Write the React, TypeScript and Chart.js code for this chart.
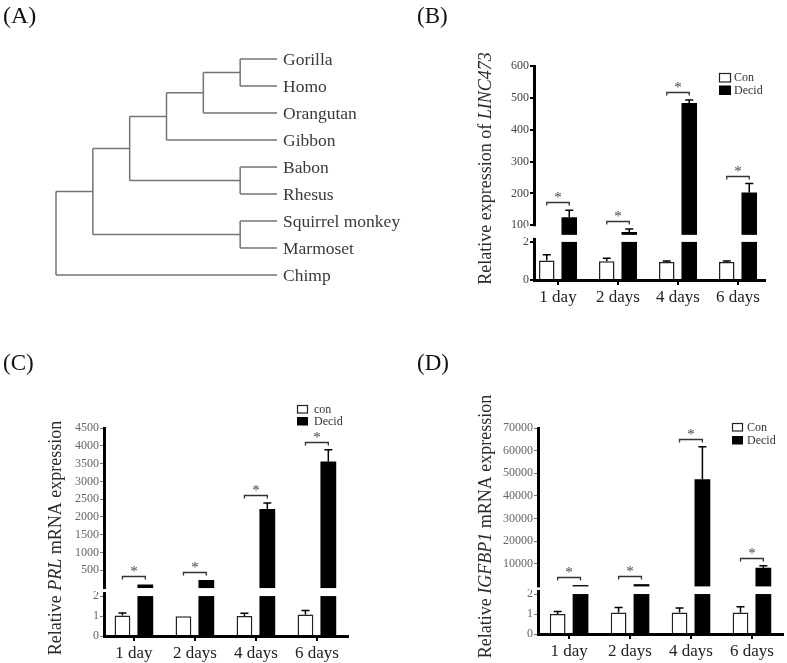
import React, { useEffect, useRef } from "react";
import { Chart, registerables } from "chart.js";

Chart.register(...registerables);

const SERIF = "'Liberation Serif', 'Times New Roman', Times, serif";
Chart.defaults.font.family = SERIF;

// ---------------- Panel A : tree ----------------
const speciesLeaves = ["Gorilla", "Homo", "Orangutan", "Gibbon", "Babon", "Rhesus", "Squirrel monkey", "Marmoset", "Chimp"];
const cladeNames = ["GH", "GHO", "GHOG", "BR", "OW", "SM", "PR", "ROOT"];
const cladeChildren = [
  ["Gorilla", "Homo"],
  ["GH", "Orangutan"],
  ["GHO", "Gibbon"],
  ["Babon", "Rhesus"],
  ["GHOG", "BR"],
  ["Squirrel monkey", "Marmoset"],
  ["OW", "SM"],
  ["PR", "Chimp"],
];
const cladeDepth = [5, 4, 3, 5, 2, 5, 1, 0];
const leafDepth = 6;

// ---------------- shared ----------------
const dayLabels = ["1 day", "2 days", "4 days", "6 days"];

// ---------------- Panel B : LINC473 ----------------
const bCon = [1.02, 0.98, 0.95, 0.95];
const bConErr = [0.3, 0.16, 0.05, 0.05];
const bDecid = [125, 79, 484, 203];
const bDecidErr = [22, 9, 9, 28];
const bSig = ["*", "*", "*", "*"];
const bLowerTicks = [0, 2];
const bUpperTicks = [100, 200, 300, 400, 500, 600];
const bLegend = ["Con", "Decid"];

// ---------------- Panel C : PRL ----------------
const cCon = [1.03, 0.99, 1.0, 1.08];
const cConErr = [0.12, 0, 0.14, 0.2];
const cDecid = [100, 230, 2222, 3555];
const cDecidErr = [0, 0, 167, 334];
const cSig = ["*", "*", "*", "*"];
const cLowerTicks = [0, 1, 2];
const cUpperTicks = [500, 1000, 1500, 2000, 2500, 3000, 3500, 4000, 4500];
const cLegend = ["con", "Decid"];

// ---------------- Panel D : IGFBP1 ----------------
const dCon = [1.0, 1.08, 1.07, 1.07];
const dConErr = [0.13, 0.25, 0.23, 0.29];
const dDecid = [600, 1000, 47350, 8240];
const dDecidErr = [0, 0, 14400, 900];
const dSig = ["*", "*", "*", "*"];
const dLowerTicks = [0, 1, 2];
const dUpperTicks = [10000, 20000, 30000, 40000, 50000, 60000, 70000];
const dLegend = ["Con", "Decid"];

function buildTree(canvas: HTMLCanvasElement) {
  const W = canvas.width;
  const H = canvas.height;
  const posX: Record<string, number> = {};
  const posY: Record<string, number> = {};
  speciesLeaves.forEach((n, i) => {
    posX[n] = leafDepth;
    posY[n] = i;
  });
  cladeNames.forEach((n, k) => {
    const kids = cladeChildren[k];
    posX[n] = cladeDepth[k];
    posY[n] = (posY[kids[0]] + posY[kids[1]]) / 2;
  });
  const segs: any[] = [];
  cladeNames.forEach((n, k) => {
    const [a, b] = cladeChildren[k];
    const d = cladeDepth[k];
    segs.push([{ x: d, y: posY[a] }, { x: d, y: posY[b] }]);
    segs.push([{ x: d, y: posY[a] }, { x: posX[a], y: posY[a] }]);
    segs.push([{ x: d, y: posY[b] }, { x: posX[b], y: posY[b] }]);
  });
  const labelPlugin = {
    id: "leafLabels",
    afterDatasetsDraw(chart: any) {
      const ctx = chart.ctx;
      const xs = chart.scales.x;
      const ys = chart.scales.y;
      ctx.save();
      ctx.fillStyle = "#3a3a3a";
      ctx.font = `17.5px ${SERIF}`;
      ctx.textAlign = "left";
      ctx.textBaseline = "middle";
      speciesLeaves.forEach((n, i) => {
        ctx.fillText(n, xs.getPixelForValue(leafDepth) + 6, ys.getPixelForValue(i) + 1);
      });
      ctx.fillStyle = "#111";
      ctx.font = `24px ${SERIF}`;
      ctx.textBaseline = "alphabetic";
      ctx.fillText("(A)", 3, 23);
      ctx.restore();
    },
  };
  return new Chart(canvas, {
    type: "scatter",
    data: {
      datasets: segs.map((s) => ({
        data: s,
        showLine: true,
        borderColor: "#747474",
        borderWidth: 1.5,
        pointRadius: 0,
        clip: false,
        tension: 0,
      })),
    },
    options: {
      responsive: false,
      animation: false,
      devicePixelRatio: 1,
      events: [],
      layout: { padding: { left: 56, right: W - 277, top: 59, bottom: H - 275 } },
      plugins: { legend: { display: false }, tooltip: { enabled: false } },
      scales: {
        x: { type: "linear", min: 0, max: leafDepth, display: false },
        y: { type: "linear", min: 0, max: speciesLeaves.length - 1, reverse: true, display: false },
      },
    },
    plugins: [labelPlugin],
  } as any);
}

function buildBar(canvas: HTMLCanvasElement, s: any) {
  const W = canvas.width;
  const H = canvas.height;
  const upperBase = s.lowerFrac + s.gapFrac;
  const upperSpan = 1 - upperBase;
  const tf = (v: number) =>
    v <= s.lowerMax
      ? (v / s.lowerMax) * s.lowerFrac
      : upperBase + ((v - s.upperMin) / (s.upperMax - s.upperMin)) * upperSpan;
  const tickVals = [...s.lowerTicks, ...s.upperTicks];

  const decor = {
    id: "decor",
    afterDatasetsDraw(chart: any) {
      const ctx = chart.ctx;
      const ys = chart.scales.y;
      const ca = chart.chartArea;
      ctx.save();
      // break gap
      ctx.fillStyle = "#fff";
      const gTop = ys.getPixelForValue(upperBase);
      const gBot = ys.getPixelForValue(s.lowerFrac);
      ctx.fillRect(ca.left + 2, gTop, ca.right - ca.left, gBot - gTop);
      const aTopVal = s.axisUpperStart > s.upperMin ? tf(s.axisUpperStart) : upperBase;
      const aTop = ys.getPixelForValue(aTopVal) + 1;
      const aBot = gBot - 4;
      ctx.fillRect(ca.left - 8, aTop, 11, aBot - aTop);
      // error bars
      const vals = [s.con, s.decid];
      const errs = [s.conErr, s.decidErr];
      ctx.strokeStyle = "#000";
      ctx.lineWidth = 1.5;
      for (let d = 0; d < 2; d++) {
        const meta = chart.getDatasetMeta(d);
        for (let i = 0; i < vals[d].length; i++) {
          if (!errs[d][i]) continue;
          const x = meta.data[i].x;
          const y0 = ys.getPixelForValue(tf(vals[d][i]));
          const y1 = ys.getPixelForValue(tf(vals[d][i] + errs[d][i]));
          ctx.beginPath();
          ctx.moveTo(x, y0);
          ctx.lineTo(x, y1);
          ctx.moveTo(x - 4, y1);
          ctx.lineTo(x + 4, y1);
          ctx.stroke();
        }
      }
      // significance brackets
      const m0 = chart.getDatasetMeta(0);
      const m1 = chart.getDatasetMeta(1);
      ctx.strokeStyle = "#333";
      ctx.lineWidth = 1.3;
      ctx.fillStyle = "#444";
      ctx.font = `15px ${SERIF}`;
      ctx.textAlign = "center";
      ctx.textBaseline = "alphabetic";
      for (let i = 0; i < s.sig.length; i++) {
        if (!s.sig[i]) continue;
        const x0 = m0.data[i].x;
        const x1 = m1.data[i].x;
        const top = Math.min(
          ys.getPixelForValue(tf(s.con[i] + s.conErr[i])),
          ys.getPixelForValue(tf(s.decid[i] + s.decidErr[i]))
        );
        const by = Math.round(top - 8) + 0.5;
        ctx.beginPath();
        ctx.moveTo(x0, by + 3);
        ctx.lineTo(x0, by);
        ctx.lineTo(x1, by);
        ctx.lineTo(x1, by + 3);
        ctx.stroke();
        ctx.fillText(s.sig[i], (x0 + x1) / 2, by - 1);
      }
      ctx.restore();
    },
    afterDraw(chart: any) {
      const ctx = chart.ctx;
      ctx.save();
      // legend
      const L = s.legend;
      ctx.font = `12px ${SERIF}`;
      ctx.textAlign = "left";
      ctx.textBaseline = "middle";
      s.legendNames.forEach((name: string, k: number) => {
        const by = L.y + k * L.step;
        if (k === 0) {
          ctx.fillStyle = "#fff";
          ctx.fillRect(L.x, by, L.boxW, L.boxH);
          ctx.strokeStyle = "#222";
          ctx.lineWidth = 1.2;
          ctx.strokeRect(L.x + 0.5, by + 0.5, L.boxW - 1, L.boxH - 1);
        } else {
          ctx.fillStyle = "#000";
          ctx.fillRect(L.x, by, L.boxW, L.boxH);
        }
        ctx.fillStyle = "#333";
        ctx.fillText(name, L.textX, by + L.boxH / 2 + 0.5);
      });
      // y title with italic gene name
      const T = s.title;
      const parts = T.parts as [string, boolean][];
      const fontOf = (it: boolean) => `${it ? "italic " : ""}18px ${SERIF}`;
      let total = 0;
      const widths = parts.map(([t, it]) => {
        ctx.font = fontOf(it);
        const w = ctx.measureText(t).width;
        total += w;
        return w;
      });
      ctx.translate(T.x, T.y);
      ctx.rotate(-Math.PI / 2);
      ctx.fillStyle = "#2a2a2a";
      ctx.textAlign = "left";
      ctx.textBaseline = "alphabetic";
      let cx = -total / 2;
      parts.forEach(([t, it], k) => {
        ctx.font = fontOf(it);
        ctx.fillText(t, cx, 0);
        cx += widths[k];
      });
      ctx.setTransform(1, 0, 0, 1, 0, 0);
      // panel label
      ctx.fillStyle = "#111";
      ctx.font = `23px ${SERIF}`;
      ctx.fillText(s.panelLabel.text, s.panelLabel.x, s.panelLabel.y);
      ctx.restore();
    },
  };

  const barCommon = { categoryPercentage: 0.75, barPercentage: 0.69 };
  return new Chart(canvas, {
    type: "bar",
    data: {
      datasets: [
        {
          label: s.legendNames[0],
          data: s.con.map((v: number, i: number) => ({ x: i, y: tf(v) })),
          backgroundColor: "#fff",
          borderColor: "#222",
          borderWidth: 1.5,
          ...barCommon,
        },
        {
          label: s.legendNames[1],
          data: s.decid.map((v: number, i: number) => ({ x: i, y: tf(v) })),
          backgroundColor: "#000",
          borderColor: "#000",
          borderWidth: 0,
          ...barCommon,
        },
      ],
    },
    options: {
      responsive: false,
      animation: false,
      devicePixelRatio: 1,
      events: [],
      layout: { padding: { left: 0, top: s.area.top, right: W - s.area.right, bottom: 0 } },
      plugins: { legend: { display: false }, tooltip: { enabled: false }, title: { display: false } },
      scales: {
        x: {
          type: "linear",
          offset: false,
          min: s.xMin,
          max: s.xMax,
          afterFit: (sc: any) => {
            sc.height = H - s.area.bottom;
          },
          afterBuildTicks: (sc: any) => {
            sc.ticks = dayLabels.map((_, i) => ({ value: i }));
          },
          ticks: {
            autoSkip: false,
            maxRotation: 0,
            padding: 2,
            color: "#222",
            font: { size: 17, family: SERIF },
            callback: (_v: any, i: number) => dayLabels[i],
          },
          grid: { offset: false, drawOnChartArea: false, color: "#000", lineWidth: 2, tickLength: 5, z: 1 },
          border: { display: true, color: "#000", width: 3, z: 1 },
        },
        y: {
          type: "linear",
          min: 0,
          max: 1,
          afterFit: (sc: any) => {
            sc.width = s.area.left;
          },
          afterBuildTicks: (sc: any) => {
            sc.ticks = tickVals.map((v: number) => ({ value: tf(v) }));
          },
          ticks: {
            autoSkip: false,
            padding: 1,
            color: s.yTickColor,
            font: { size: 12, family: SERIF },
            callback: (_v: any, i: number) => String(tickVals[i]),
          },
          grid: { drawOnChartArea: false, color: s.yTickLine, lineWidth: s.yTickWidth, tickLength: 4 },
          border: { display: true, color: "#000", width: 3 },
        },
      },
    },
    plugins: [decor],
  } as any);
}

const specB = {
  area: { left: 134, right: 365, top: 66, bottom: 280 },
  xMin: -0.4,
  xMax: 3.45,
  con: bCon,
  conErr: bConErr,
  decid: bDecid,
  decidErr: bDecidErr,
  sig: bSig,
  lowerTicks: bLowerTicks,
  upperTicks: bUpperTicks,
  lowerMax: 2,
  upperMin: 70,
  upperMax: 600,
  axisUpperStart: 100,
  lowerFrac: 0.178,
  gapFrac: 0.033,
  legendNames: bLegend,
  legend: { x: 319, y: 73, boxW: 12, boxH: 9.5, step: 12.5, textX: 334 },
  title: { parts: [["Relative expression of ", false], ["LINC473", true]], x: 91, y: 168.5 },
  panelLabel: { text: "(B)", x: 17, y: 23 },
  yTickColor: "#444",
  yTickLine: "#000",
  yTickWidth: 2,
};

const specC = {
  area: { left: 104, right: 348, top: 108, bottom: 316 },
  xMin: -0.49,
  xMax: 3.51,
  con: cCon,
  conErr: cConErr,
  decid: cDecid,
  decidErr: cDecidErr,
  sig: cSig,
  lowerTicks: cLowerTicks,
  upperTicks: cUpperTicks,
  lowerMax: 2,
  upperMin: 0,
  upperMax: 4500,
  axisUpperStart: 0,
  lowerFrac: 0.192,
  gapFrac: 0.0385,
  legendNames: cLegend,
  legend: { x: 297, y: 85, boxW: 11, boxH: 8.5, step: 12, textX: 314 },
  title: { parts: [["Relative ", false], ["PRL", true], [" mRNA expression", false]], x: 61, y: 218 },
  panelLabel: { text: "(C)", x: 3, y: 50 },
  yTickColor: "#666",
  yTickLine: "#777",
  yTickWidth: 1,
};

const specD = {
  area: { left: 138, right: 383, top: 108, bottom: 314 },
  xMin: -0.51,
  xMax: 3.51,
  con: dCon,
  conErr: dConErr,
  decid: dDecid,
  decidErr: dDecidErr,
  sig: dSig,
  lowerTicks: dLowerTicks,
  upperTicks: dUpperTicks,
  lowerMax: 2,
  upperMin: 0,
  upperMax: 70000,
  axisUpperStart: 0,
  lowerFrac: 0.194,
  gapFrac: 0.037,
  legendNames: dLegend,
  legend: { x: 332, y: 103, boxW: 11, boxH: 8.5, step: 13, textX: 347 },
  title: { parts: [["Relative ", false], ["IGFBP1", true], [" mRNA expression", false]], x: 91, y: 206.5 },
  panelLabel: { text: "(D)", x: 17, y: 50 },
  yTickColor: "#666",
  yTickLine: "#777",
  yTickWidth: 1,
};

export default function App() {
  const aRef = useRef<HTMLCanvasElement>(null);
  const bRef = useRef<HTMLCanvasElement>(null);
  const cRef = useRef<HTMLCanvasElement>(null);
  const dRef = useRef<HTMLCanvasElement>(null);

  useEffect(() => {
    const charts = [
      buildTree(aRef.current!),
      buildBar(bRef.current!, specB),
      buildBar(cRef.current!, specC),
      buildBar(dRef.current!, specD),
    ];
    return () => charts.forEach((c) => c.destroy());
  }, []);

  return (
    <div style={{ position: "absolute", left: 0, top: 0, width: 787, height: 663, background: "#fff", overflow: "hidden" }}>
      <canvas ref={aRef} width={410} height={320} style={{ position: "absolute", left: 0, top: 0 }} />
      <canvas ref={bRef} width={387} height={320} style={{ position: "absolute", left: 400, top: 0 }} />
      <canvas ref={cRef} width={400} height={343} style={{ position: "absolute", left: 0, top: 320 }} />
      <canvas ref={dRef} width={387} height={343} style={{ position: "absolute", left: 400, top: 320 }} />
    </div>
  );
}
